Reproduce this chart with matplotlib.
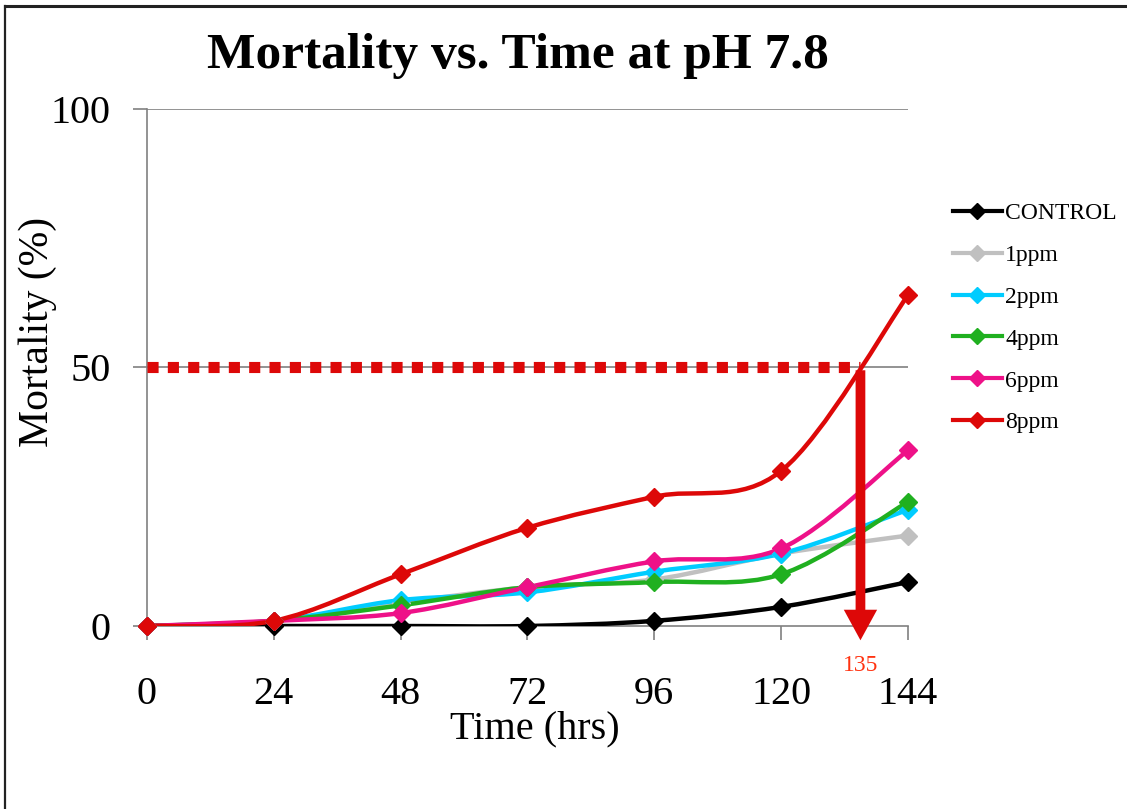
import matplotlib
matplotlib.use('Agg')
import matplotlib.pyplot as plt
from matplotlib.path import Path
from matplotlib.patches import PathPatch, FancyArrowPatch
from matplotlib.lines import Line2D
import numpy as np

plt.rcParams['font.family'] = ['Liberation Serif', 'DejaVu Serif']

hours = [0, 24, 48, 72, 96, 120, 144]
control = [0, 0, 0, 0, 1, 3.7, 8.5]
ppm1 = [0, 1, 4.5, 7.5, 9, 14, 17.5]
ppm2 = [0, 1, 5, 6.5, 10.5, 14, 22.5]
ppm4 = [0, 1, 4, 7.5, 8.5, 10, 24]
ppm6 = [0, 1, 2.5, 7.5, 12.5, 15, 34]
ppm8 = [0, 1, 10, 19, 25, 30, 64]

series_names = ['CONTROL', '1ppm', '2ppm', '4ppm', '6ppm', '8ppm']
series_vals = [control, ppm1, ppm2, ppm4, ppm6, ppm8]
colors = ['#000000', '#C0C0C0', '#00CCFF', '#20B020', '#EE1188', '#DD0808']

lc50 = 50
lt50_time = 135


def smooth_path(x, y):
    # Catmull-Rom style bezier, same idea as a spreadsheet "smoothed line"
    pts = np.column_stack([x, y]).astype(float)
    verts = [pts[0]]
    codes = [Path.MOVETO]
    n = len(pts)
    for i in range(n - 1):
        p0 = pts[i - 1] if i > 0 else pts[i]
        p1 = pts[i]
        p2 = pts[i + 1]
        p3 = pts[i + 2] if i + 2 < n else pts[i + 1]
        c1 = p1 + (p2 - p0) / 6.0
        c2 = p2 - (p3 - p1) / 6.0
        verts += [c1, c2, p2]
        codes += [Path.CURVE4] * 3
    return Path(verts, codes)


fig = plt.figure(figsize=(11.27, 8.09), dpi=100)
ax = fig.add_axes([0.1304, 0.2262, 0.6753, 0.6391])

ax.set_xlim(0, 144)
ax.set_ylim(0, 100)

# gridlines at 50 and 100
for g in [50, 100]:
    ax.axhline(g, color='#808080', lw=1.2, zorder=1)

for name, vals, c in zip(series_names, series_vals, colors):
    ax.add_patch(PathPatch(smooth_path(hours, vals), fill=False, edgecolor=c,
                           lw=3.2, capstyle='round', joinstyle='round', zorder=3))
    ax.plot(hours, vals, linestyle='none', marker='D', markersize=9.5,
            color=c, zorder=4, clip_on=False)

# 50% mortality line
ax.plot([0, lt50_time], [lc50, lc50], color='#DD0808', lw=8,
        dashes=(1.0, 0.83), solid_capstyle='butt', dash_capstyle='butt',
        zorder=5, clip_on=False)

# arrow down to the time axis
arrow = FancyArrowPatch((lt50_time, lc50), (lt50_time, -3.3),
                        arrowstyle='simple,head_width=24,head_length=22,tail_width=7',
                        mutation_scale=1, color='#DD0808', lw=0,
                        zorder=6, clip_on=False)
ax.add_patch(arrow)
ax.text(lt50_time, -7.7, str(lt50_time), color='#FF3311', fontsize=17,
        ha='center', va='center')

ax.set_xticks(hours)
ax.set_yticks([0, 50, 100])
ax.tick_params(axis='both', direction='out', length=10, width=1.2,
               color='#808080', labelsize=29)
ax.tick_params(axis='y', pad=16)
ax.tick_params(axis='x', pad=26)
for s in ['top', 'right']:
    ax.spines[s].set_visible(False)
for s in ['left', 'bottom']:
    ax.spines[s].set_color('#808080')
    ax.spines[s].set_linewidth(1.2)

ax.set_xlabel('Time (hrs)', fontsize=29)
ax.xaxis.set_label_coords(0.51, -0.163)
ax.set_ylabel('Mortality (%)', fontsize=30)
ax.yaxis.set_label_coords(-0.143, 0.569)
ax.yaxis.label.set_va('center')
fig.text(0.4596, 0.916, 'Mortality vs. Time at pH 7.8', fontsize=37,
         fontweight='bold', ha='center', va='baseline')

handles = [Line2D([], [], color=c, lw=3, marker='D', markersize=8) for c in colors]
leg = ax.legend(handles, series_names, loc='upper left', bbox_to_anchor=(1.047, 0.837),
                frameon=False, fontsize=17, handlelength=2.05, handletextpad=0.15,
                labelspacing=0.86, borderaxespad=0)

# outer frame (left and top edges)
fig.add_artist(Line2D([0.0045, 0.0045], [0, 0.993], transform=fig.transFigure,
                      color='#222222', lw=1.6))
fig.add_artist(Line2D([0.0045, 1], [0.993, 0.993], transform=fig.transFigure,
                      color='#222222', lw=2.2))

fig.savefig('out.png', dpi=100)
